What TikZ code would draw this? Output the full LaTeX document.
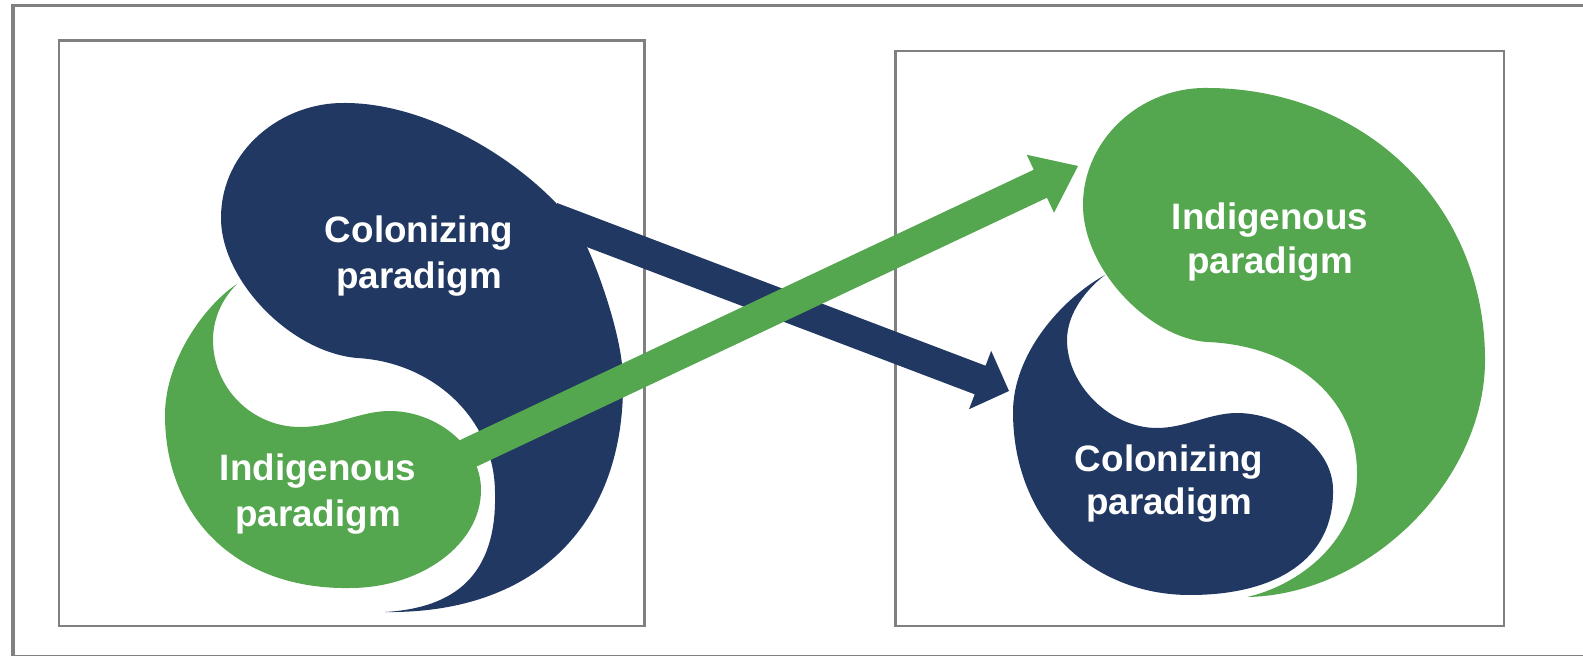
\documentclass[tikz,border=0pt]{standalone}
\usepackage{fontspec}
\setmainfont{Liberation Sans}
\usetikzlibrary{calc}
\definecolor{cblue}{RGB}{33,56,99}
\definecolor{cgreen}{RGB}{84,166,79}
\definecolor{framec}{RGB}{128,128,128}
% #1 colour, #2 start coordinate, #3 tip coordinate, #4 half shaft width, #5 half head width, #6 head length
\newcommand\fatarrow[6]{%
  \coordinate (#3-h) at ($(#3)!#6!(#2)$);
  \fill[#1] ($(#2)!#4!90:(#3)$) -- ($(#3-h)!#4!90:(#3)$) -- ($(#3-h)!#5!90:(#3)$)
    -- (#3) -- ($(#3-h)!#5!-90:(#3)$) -- ($(#3-h)!#4!-90:(#3)$)
    -- ($(#2)!#4!-90:(#3)$) -- cycle;}
\tikzset{
  lbl/.style={text=white, font=\bfseries\fontsize{18.4}{23}\selectfont, align=center, inner sep=0pt},
  lblr/.style={lbl, font=\bfseries\fontsize{18.4}{21.8}\selectfont},
  panel/.style={draw=framec, line width=1.25pt},
  bluefill/.style={fill=cblue},
  greenfill/.style={fill=cgreen}
}
\begin{document}
\begin{tikzpicture}[x=0.5pt, y=-0.5pt]
\useasboundingbox (0,0) rectangle (1583,656);
\fill[white] (0,0) rectangle (1583,656);
% outer frame (cut at right and bottom)
\draw[framec, line width=1.6pt] (1600,5.5) -- (13,5.5) -- (13,656.5) -- (1600,656.5);
% panels
\draw[panel] (59,40.5) rectangle (644.5,626);
\draw[panel] (895.5,51) rectangle (1504,626);

% ---------- left panel ----------
% colonizing (blue) teardrop
\fill[bluefill] (385,612) .. controls (540,614) and (625,520) .. (623,380)
  .. controls (623,340) and (600,275) .. (587,247)
  -- (556,203)
  .. controls (505,150) and (420,103) .. (345,103)
  .. controls (282,102) and (221,150) .. (221,218)
  .. controls (221,280) and (290,352) .. (357,358)
  .. controls (433,362) and (495,419) .. (495,493)
  .. controls (497,575) and (455,608) .. (385,612) -- cycle;
% indigenous (green) teardrop
\fill[greenfill] (237,284) .. controls (205,305) and (165,360) .. (165,415)
  .. controls (165,520) and (240,590) .. (350,588)
  .. controls (420,588) and (481,545) .. (481,490)
  .. controls (481,445) and (435,411) .. (390,411)
  .. controls (360,411) and (335,427) .. (300,427)
  .. controls (252,427) and (213,388) .. (213,340)
  .. controls (213,315) and (225,296) .. (237,284) -- cycle;

% ---------- right panel ----------
% indigenous (green) teardrop
\fill[greenfill] (1247,597) .. controls (1370,595) and (1485,480) .. (1485,360)
  .. controls (1485,200) and (1360,88) .. (1207,88)
  .. controls (1140,87) and (1083,140) .. (1083,205)
  .. controls (1083,270) and (1150,338) .. (1207,342)
  .. controls (1290,345) and (1357,395) .. (1357,473)
  .. controls (1358,540) and (1300,585) .. (1247,597) -- cycle;
% colonizing (blue) teardrop
\fill[bluefill] (1105,275) .. controls (1060,300) and (1013,355) .. (1013,412)
  .. controls (1013,520) and (1090,595) .. (1190,595)
  .. controls (1275,595) and (1334,560) .. (1333,490)
  .. controls (1333,445) and (1280,413) .. (1237,413)
  .. controls (1210,413) and (1185,428) .. (1157,428)
  .. controls (1110,428) and (1067,385) .. (1067,340)
  .. controls (1067,312) and (1088,288) .. (1105,275) -- cycle;

% ---------- arrows ----------
\coordinate (bS) at (551.6,217.3);
\coordinate (bP) at (1009,391);
\coordinate (gS) at (459.2,457.6);
\coordinate (gP) at (1078,166);
\fatarrow{cblue}{bS}{bP}{7.65pt}{15.6pt}{15.45pt}
\fatarrow{cgreen}{gS}{gP}{7.75pt}{16pt}{20.8pt}

% ---------- labels (anchor base = last line) ----------
\node[lbl, anchor=base] (colL) at (419,288.3) {Colonizing\\paradigm};
\node[lbl, anchor=base] (indL) at (318,526.7) {Indigenous\\paradigm};
\node[lblr, anchor=base] (indR) at (1270,273.3) {Indigenous\\paradigm};
\node[lblr, anchor=base] (colR) at (1169,515) {Colonizing\\paradigm};
\end{tikzpicture}
\end{document}
